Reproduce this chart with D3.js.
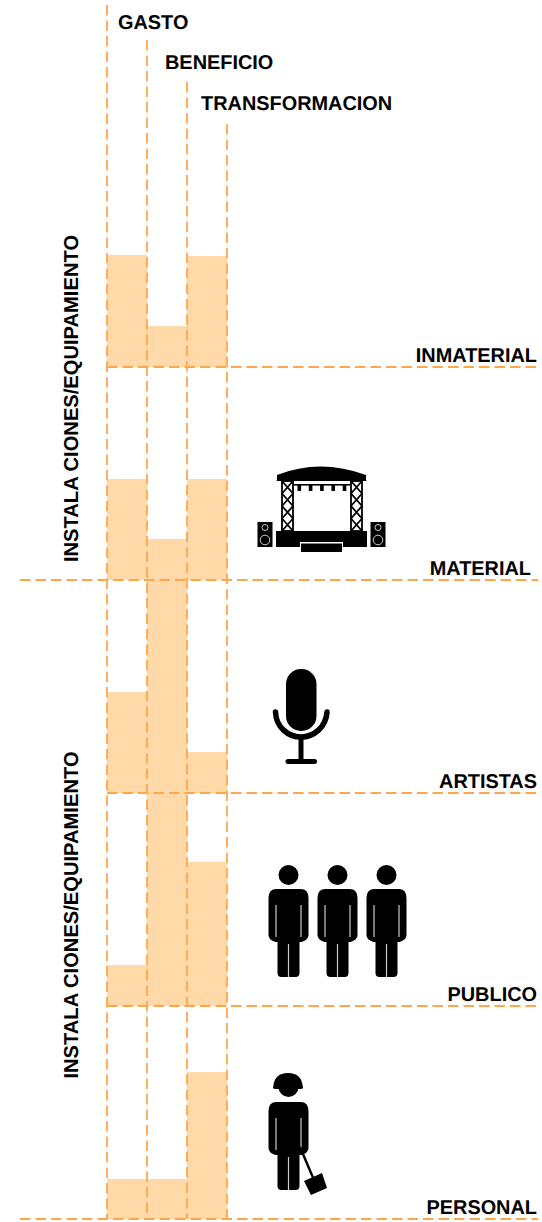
<!DOCTYPE html>
<html>
<head>
<meta charset="utf-8">
<script src="https://cdn.jsdelivr.net/npm/d3@7"></script>
<style>
  html, body { margin: 0; padding: 0; background: #fff; }
  svg { display: block; }
  text { font-family: "Liberation Sans", Arial, sans-serif; font-weight: bold; fill: #000; font-size: 19.9px; text-rendering: geometricPrecision; }
</style>
</head>
<body>
<svg id="chart" width="542" height="1222"></svg>
<script>
const rows = ["INMATERIAL", "MATERIAL", "ARTISTAS", "PUBLICO", "PERSONAL"];
const columns = ["GASTO", "BENEFICIO", "TRANSFORMACION"];
// bar height as % of one row
const gasto = [52.6, 47.4, 47.4, 19.2, 18.8];
const beneficio = [19.2, 19.2, 100, 100, 18.8];
const transformacion = [52.1, 47.4, 19.2, 67.6, 69];
const groupLabels = ["INSTALA CIONES/EQUIPAMIENTO", "INSTALA CIONES/EQUIPAMIENTO"];

const svg = d3.select("#chart");
const orange = "#ffa64d";
const dash = "10.5,5";

const x = d3.scaleBand().domain(columns).range([107, 227]);
const rowScale = d3.scaleBand().domain(rows).range([154, 1219]);
const h = d3.scaleLinear().domain([0, 100]).range([0, rowScale.bandwidth()]);
const baseline = (r) => rowScale(r) + rowScale.bandwidth();

// Bars
[gasto, beneficio, transformacion].forEach((values, c) => {
  svg.append("g")
    .selectAll("rect")
    .data(values)
    .enter()
    .append("rect")
    .attr("x", x(columns[c]))
    .attr("y", (d, i) => baseline(rows[i]) - h(d))
    .attr("width", x.bandwidth())
    .attr("height", (d) => h(d))
    .attr("fill", "#ffd9a8");
});

// Vertical dashed guides, each one starts lower than the last
const guideTops = [5, 40, 82, 124];
guideTops.forEach((top, i) => {
  const gx = 107 + i * x.bandwidth();
  svg.append("line")
    .attr("x1", gx).attr("x2", gx)
    .attr("y1", top).attr("y2", 1219)
    .attr("stroke", orange).attr("stroke-width", 1.8)
    .attr("stroke-dasharray", dash);
});

// Horizontal dashed row lines, MATERIAL and PERSONAL reach further left
rows.forEach((r) => {
  const x0 = r === "MATERIAL" || r === "PERSONAL" ? 20 : 107;
  svg.append("line")
    .attr("x1", x0).attr("x2", 538)
    .attr("y1", baseline(r)).attr("y2", baseline(r))
    .attr("stroke", orange).attr("stroke-width", 1.8)
    .attr("stroke-dasharray", dash);
});

// Column titles
const titlePos = [[118, 29], [165, 68.5], [201, 110]];
columns.forEach((c, i) => {
  svg.append("text").attr("x", titlePos[i][0]).attr("y", titlePos[i][1]).text(c);
});

// Row labels
const rowLabelEnd = [537, 531, 537, 537, 537];
const rowLabelY = [362, 575, 788, 1001, 1214];
rows.forEach((r, i) => {
  svg.append("text")
    .attr("x", rowLabelEnd[i]).attr("y", rowLabelY[i])
    .attr("text-anchor", "end").text(r);
});

// Rotated group labels
const groupCentres = [398.5, 915];
groupLabels.forEach((t, i) => {
  svg.append("text")
    .attr("transform", `translate(78, ${groupCentres[i]}) rotate(-90)`)
    .attr("text-anchor", "middle")
    .style("font-size", "20.15px")
    .text(t);
});

// Icons
function person(g, px, py) {
  // px = centre x, py = top of the head
  const p = g.append("g").attr("transform", `translate(${px}, ${py})`);
  p.append("circle").attr("cx", 0).attr("cy", 10).attr("r", 10).attr("fill", "#000");
  p.append("path").attr("fill", "#000").attr("d",
    "M-12,24 H12 Q20,24 20,33 V70 Q20,75 13,77 L11,77 V108 Q11,112 7,112 H-7 Q-11,112 -11,108 V77 L-13,77 Q-20,75 -20,70 V33 Q-20,24 -12,24 Z");
  // gaps between arms, body and legs
  [[-12.5, 40, -12.5, 72], [12.5, 40, 12.5, 72], [0, 79, 0, 112]].forEach((l) => {
    p.append("line")
      .attr("x1", l[0]).attr("y1", l[1]).attr("x2", l[2]).attr("y2", l[3])
      .attr("stroke", "#fff").attr("stroke-width", 1.2).attr("opacity", 0.8);
  });
  return p;
}

const icons = svg.append("g");

// Stage
const stage = icons.append("g");
stage.append("path").attr("fill", "#000")
  .attr("d", "M277,480 V475 Q320,458 366,475 V480 Q368,481 364,481 H279 Q275,481 277,480 Z");
stage.append("rect").attr("x", 293).attr("y", 484).attr("width", 57).attr("height", 1.6).attr("fill", "#000");
d3.range(5).forEach((i) => {
  stage.append("rect").attr("x", 297.5 + i * 11.3).attr("y", 485).attr("width", 3.6).attr("height", 6).attr("fill", "#000");
});
[[282, 293], [351, 362]].forEach((t) => {
  const tr = stage.append("g");
  tr.append("rect").attr("x", t[0]).attr("y", 481).attr("width", t[1] - t[0]).attr("height", 50)
    .attr("fill", "none").attr("stroke", "#000").attr("stroke-width", 1.8);
  d3.range(4).forEach((k) => {
    const y0 = 481 + k * 12.5;
    tr.append("path").attr("fill", "none").attr("stroke", "#000").attr("stroke-width", 1.8)
      .attr("d", `M${t[0]},${y0} L${t[1]},${y0 + 12.5} M${t[1]},${y0} L${t[0]},${y0 + 12.5}`);
  });
});
stage.append("rect").attr("x", 276).attr("y", 531).attr("width", 91).attr("height", 16).attr("fill", "#000");
stage.append("rect").attr("x", 300).attr("y", 542).attr("width", 43).attr("height", 10).attr("fill", "#fff");
stage.append("rect").attr("x", 301).attr("y", 543.5).attr("width", 41).attr("height", 8.5).attr("fill", "#000");
[[257.5, 272.5], [370.5, 385.5]].forEach((s) => {
  const cx = (s[0] + s[1]) / 2;
  stage.append("rect").attr("x", s[0]).attr("y", 522).attr("width", s[1] - s[0]).attr("height", 25).attr("fill", "#000");
  stage.append("circle").attr("cx", cx).attr("cy", 527.5).attr("r", 3).attr("fill", "none").attr("stroke", "#ccc").attr("stroke-width", 1);
  stage.append("circle").attr("cx", cx).attr("cy", 540).attr("r", 4.8).attr("fill", "none").attr("stroke", "#ccc").attr("stroke-width", 1);
});

// Microphone
const mic = icons.append("g");
mic.append("rect").attr("x", 286).attr("y", 669).attr("width", 30.5).attr("height", 62).attr("rx", 15).attr("fill", "#000");
mic.append("path").attr("fill", "none").attr("stroke", "#000").attr("stroke-width", 5.5).attr("stroke-linecap", "round")
  .attr("d", "M275.5,712 C276,727 288,737 301,737 C314,737 326,727 327,712");
mic.append("line").attr("x1", 301).attr("x2", 301).attr("y1", 737).attr("y2", 761).attr("stroke", "#000").attr("stroke-width", 5);
mic.append("line").attr("x1", 288).attr("x2", 314.5).attr("y1", 761.5).attr("y2", 761.5).attr("stroke", "#000").attr("stroke-width", 5).attr("stroke-linecap", "round");

// Audience
[288.5, 337.5, 386.5].forEach((px) => person(icons, px, 865));

// Worker with helmet and shovel
person(icons, 288.5, 1078).select("circle").attr("cy", 9);
icons.append("path").attr("fill", "#000")
  .attr("d", "M273,1088 Q274,1073 288,1073 Q302,1073 303,1088 Q303,1089 300,1089 H276 Q273,1089 273,1088 Z");
icons.append("line").attr("x1", 300).attr("y1", 1147).attr("x2", 314).attr("y2", 1180)
  .attr("stroke", "#000").attr("stroke-width", 2.4);
icons.append("path").attr("fill", "#000")
  .attr("d", "M304,1181 L322,1173 L327,1188 L311,1195 Z");
</script>
</body>
</html>
